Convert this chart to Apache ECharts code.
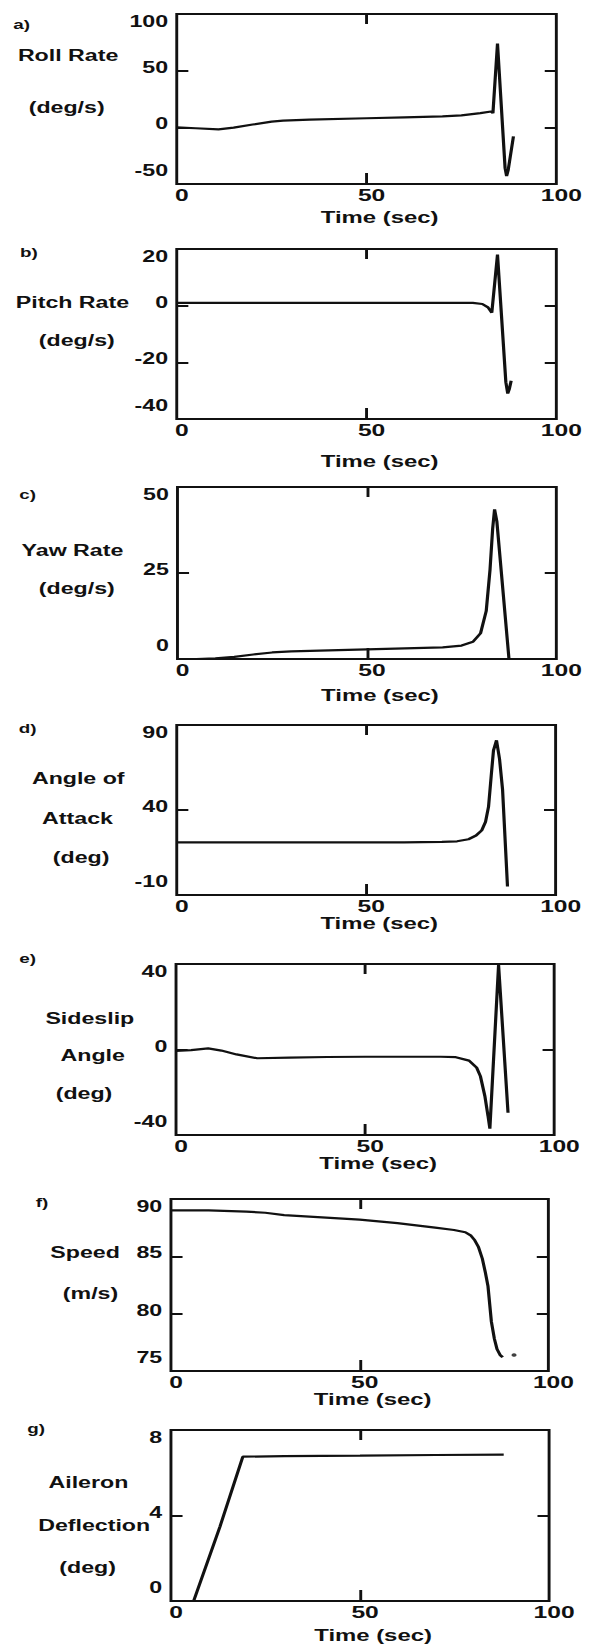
<!DOCTYPE html>
<html>
<head>
<meta charset="utf-8">
<script src="https://cdn.jsdelivr.net/npm/echarts@6/dist/echarts.min.js"></script>
<style>
html,body{margin:0;padding:0;background:#fff;overflow:hidden;}
/* the scanned figure is stretched sideways, so draw narrow and stretch it */
#main{width:410px;height:1646px;transform:scaleX(1.44878);transform-origin:0 0;}
</style>
</head>
<body>
<div id="main"></div>
<script>
var timeTicks = [0, 50, 100];

var rollTicks = [-50, 0, 50, 100];
var rollT = [0, 5, 11, 15, 20, 25, 28, 35, 50, 60, 70, 75, 80, 82.8, 83.3, 84.5, 86.5, 86.9, 87.3, 88.7];
var rollRate = [0, -0.8, -1.8, -0.3, 2.5, 5, 5.9, 6.8, 8, 8.8, 9.6, 10.5, 12.5, 14, 12.5, 74, -36, -43, -38, -8];

var pitchTicks = [-40, -20, 0, 20];
var pitchT = [0, 10, 20, 30, 40, 50, 60, 70, 78, 80.5, 82, 83, 84.5, 86.7, 87.2, 87.6, 88.1];
var pitchRate = [1, 1, 1, 1, 1, 1, 1, 1, 1, 0.6, -0.6, -2.5, 18, -27, -31, -29.5, -26.5];

var yawTicks = [0, 25, 50];
var yawT = [0, 5, 10, 15, 20, 25, 30, 40, 50, 60, 70, 75, 78, 80, 81.5, 82.5, 83.2, 83.7, 84.3, 87.5];
var yawRate = [0, 0, 0.2, 0.6, 1.3, 1.9, 2.2, 2.5, 2.8, 3.1, 3.4, 3.9, 5, 7.5, 14, 26, 38, 43.5, 40, 0];

var aoaTicks = [-10, 40, 90];
var aoaT = [0, 10, 20, 30, 40, 50, 60, 70, 74, 77, 79, 80.5, 81.5, 82.3, 83, 83.6, 84.4, 85.2, 86, 87.3];
var angleOfAttack = [21, 21, 21, 21, 21, 21, 21, 21.2, 21.6, 22.8, 25, 28, 33, 42, 60, 75, 81, 70, 52, -5];

var slipTicks = [-40, 0, 40];
var slipT = [0, 4, 8.5, 12, 16, 21.5, 30, 40, 50, 60, 70, 74, 77.5, 79.5, 80.5, 81.7, 82.5, 83, 85.3, 87.8];
var sideslip = [-0.6, -0.3, 0.5, -0.5, -2.3, -4.1, -3.8, -3.5, -3.4, -3.4, -3.4, -3.6, -5.2, -8.5, -12.5, -22, -31, -37, 39.5, -29.6];

var speedTicks = [75, 80, 85, 90];
var speedT = [0, 10, 20, 25, 30, 40, 50, 60, 65, 70, 75, 78, 79.5, 80.5, 81.5, 82.5, 83.3, 84, 84.9, 85.7, 86.4, 87.2, 87.9];
var speed = [89, 89, 88.9, 88.8, 88.6, 88.4, 88.2, 87.9, 87.7, 87.5, 87.3, 87.1, 86.8, 86.4, 85.8, 84.8, 83.6, 82.4, 79.3, 77.8, 76.9, 76.4, 76.2];
var speedDotT = [90.9];
var speedDot = [76.4];

var aileronTicks = [0, 4, 8];
var aileronT = [0, 6, 13, 19, 30, 50, 70, 88];
var aileron = [0, 0, 3.5, 6.75, 6.78, 6.8, 6.83, 6.85];

var FONT = '"Liberation Sans", Arial, Helvetica, sans-serif';
var INK = '#111';

function pairs(t, v){
	var out = [];
	for (var i = 0; i < t.length; i++) out.push([t[i], v[i]]);
	return out;
}

var panels = [
	{tag:'a)', tagX:15, tagY:24, words:[['Roll Rate',47,55],['(deg/s)',46,107]],
	 top:14, height:170, left:122, right:26, nameGap:24, ticks:rollTicks, line:pairs(rollT, rollRate)},
	{tag:'b)', tagX:20, tagY:252, words:[['Pitch Rate',50,302],['(deg/s)',53,340]],
	 top:249, height:170, left:122, right:26, nameGap:33, ticks:pitchTicks, line:pairs(pitchT, pitchRate)},
	{tag:'c)', tagX:19, tagY:494, words:[['Yaw Rate',50,550],['(deg/s)',53,588]],
	 top:487, height:172, left:122.5, right:26, nameGap:27, ticks:yawTicks, line:pairs(yawT, yawRate)},
	{tag:'d)', tagX:19, tagY:728, words:[['Angle of',54,778],['Attack',53.5,818],['(deg)',56,857]],
	 top:725, height:170, left:122, right:26.5, nameGap:18, ticks:aoaTicks, line:pairs(aoaT, angleOfAttack)},
	{tag:'e)', tagX:19, tagY:958, words:[['Sideslip',62,1018],['Angle',64,1055],['(deg)',58,1093]],
	 top:964, height:171, left:121.5, right:27.5, nameGap:19.5, ticks:slipTicks, line:pairs(slipT, sideslip)},
	{tag:'f)', tagX:29, tagY:1202, words:[['Speed',58.7,1252],['(m/s)',62.5,1293]],
	 top:1199, height:172, left:118, right:31.5, nameGap:18.5, ticks:speedTicks, line:pairs(speedT, speed),
	 dots:pairs(speedDotT, speedDot)},
	{tag:'g)', tagX:25, tagY:1428, words:[['Aileron',61,1482],['Deflection',65,1525],['(deg)',60.5,1567]],
	 top:1430, height:171, left:118, right:31, nameGap:25, ticks:aileronTicks, line:pairs(aileronT, aileron)}
];

function drawFlightCharts(idName){
	var chart = echarts.init(document.getElementById(idName), null, {renderer:'svg'});
	var grids = [], xAxes = [], yAxes = [], series = [], texts = [];
	var tickLine = {color:INK, width:2};
	var noLine = {show:false, onZero:false};

	panels.forEach(function(p, i){
		var lo = p.ticks[0], hi = p.ticks[p.ticks.length - 1];
		grids.push({left:p.left, right:p.right, top:p.top, height:p.height, show:true,
			borderColor:INK, borderWidth:2, outerBoundsMode:'none'});

		xAxes.push({
			type:'value', gridIndex:i, position:'bottom', min:0, max:100,
			axisLine:noLine, splitLine:{show:false},
			axisTick:{show:true, inside:true, length:11, customValues:[50], lineStyle:tickLine},
			axisLabel:{customValues:timeTicks, margin:2, fontSize:17, fontWeight:'bold', fontFamily:FONT, color:INK, padding:[0,0,0,7]},
			name:'Time (sec)', nameLocation:'middle', nameGap:p.nameGap,
			nameTextStyle:{fontSize:16.5, fontWeight:'bold', fontFamily:FONT, color:INK, padding:[0,0,0,18]}
		});
		xAxes.push({
			type:'value', gridIndex:i, position:'top', min:0, max:100,
			axisLine:noLine, splitLine:{show:false}, axisLabel:{show:false},
			axisTick:{show:true, inside:true, length:10, customValues:[50], lineStyle:tickLine}
		});

		var labelStyle = {fontSize:16, fontWeight:'bold', fontFamily:FONT, color:INK};
		yAxes.push({
			type:'value', gridIndex:i, position:'left', min:lo, max:hi,
			axisLine:noLine, splitLine:{show:false},
			axisTick:{show:true, inside:true, length:8, customValues:p.ticks.slice(1, -1), lineStyle:tickLine},
			axisLabel:{
				customValues:p.ticks, margin:6, fontSize:16, fontWeight:'bold', fontFamily:FONT, color:INK,
				formatter:function(v){
					if (v === hi) return '{t|' + v + '}';
					if (v === lo) return '{b|' + v + '}';
					return '{m|' + v + '}';
				},
				rich:{
					t:Object.assign({padding:[14,0,0,0]}, labelStyle),
					m:Object.assign({padding:[0,0,7,0]}, labelStyle),
					b:Object.assign({padding:[0,0,28,0]}, labelStyle)
				}
			}
		});
		yAxes.push({
			type:'value', gridIndex:i, position:'right', min:lo, max:hi,
			axisLine:noLine, splitLine:{show:false}, axisLabel:{show:false},
			axisTick:{show:true, inside:true, length:8, customValues:p.ticks.slice(1, -1), lineStyle:tickLine}
		});

		series.push({
			type:'line', xAxisIndex:2 * i, yAxisIndex:2 * i, data:p.line,
			showSymbol:false, symbol:'none', clip:true,
			lineStyle:{color:INK, width:2.2}
		});
		if (p.dots) {
			series.push({
				type:'scatter', xAxisIndex:2 * i, yAxisIndex:2 * i, data:p.dots,
				symbolSize:3.5, itemStyle:{color:INK}
			});
		}

		texts.push({type:'text', x:p.tagX, y:p.tagY, silent:true,
			style:{text:p.tag, fill:INK, font:'bold 13px ' + FONT,
				textAlign:'center', textVerticalAlign:'middle', align:'center', verticalAlign:'middle'}});
		p.words.forEach(function(w){
			texts.push({type:'text', x:w[1], y:w[2], silent:true,
				style:{text:w[0], fill:INK, font:'bold 16px ' + FONT,
					textAlign:'center', textVerticalAlign:'middle', align:'center', verticalAlign:'middle'}});
		});
	});

	var option = {
		animation:false,
		backgroundColor:'#fff',
		grid:grids,
		xAxis:xAxes,
		yAxis:yAxes,
		series:series,
		graphic:texts
	};

	chart.setOption(option);
}

drawFlightCharts('main');
</script>
</body>
</html>
